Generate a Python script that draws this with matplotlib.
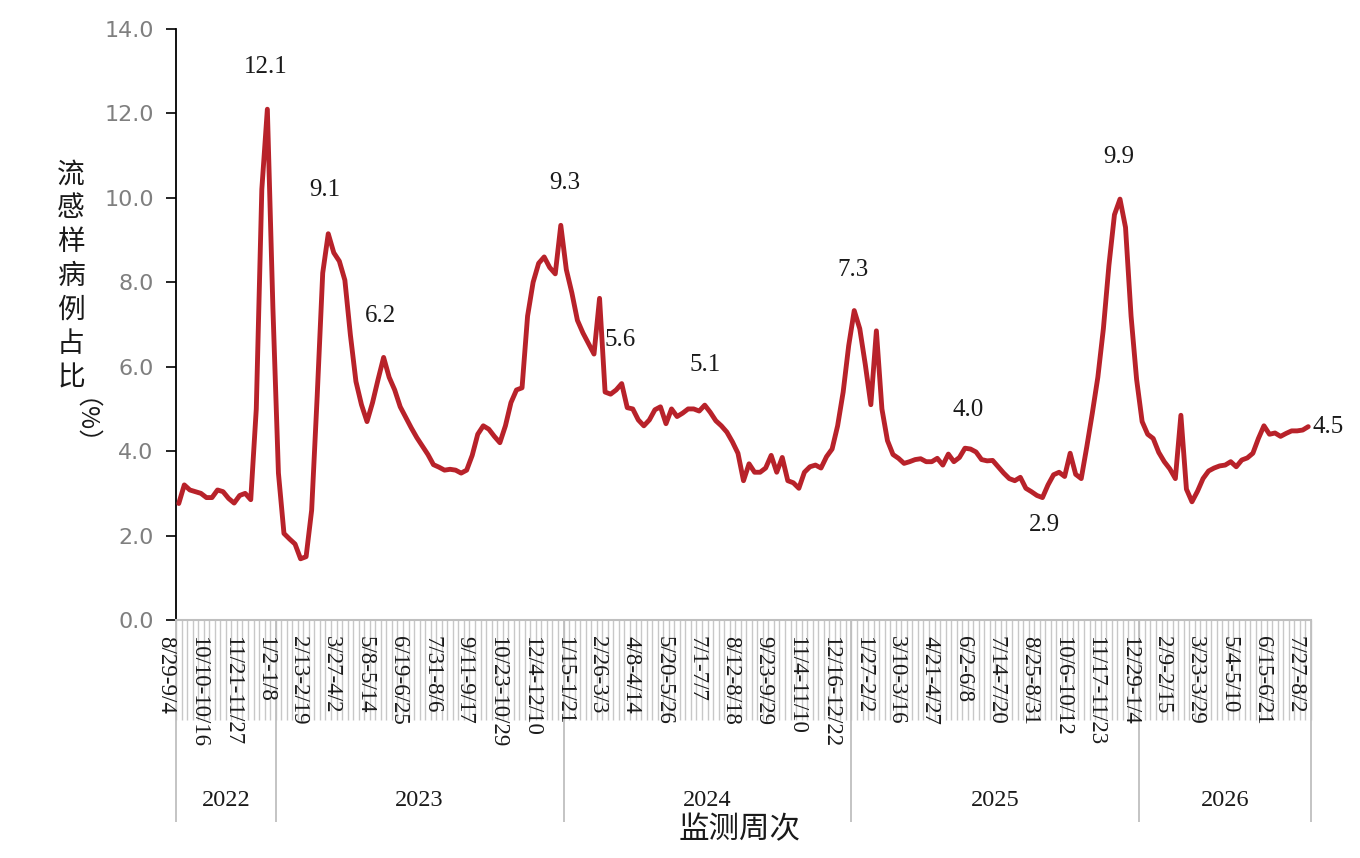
import numpy as np
import matplotlib
matplotlib.use("Agg")
import matplotlib.pyplot as plt
from matplotlib.transforms import offset_copy

# ---------------- data ----------------
years = ["2022", "2023", "2024", "2025", "2026"]

values_2022 = [2.76, 3.2, 3.08, 3.04, 3.0, 2.9, 2.9, 3.08, 3.04, 2.88,
               2.77, 2.95, 3.0, 2.85, 5.0, 10.2, 12.1, 7.4]
values_2023 = [3.48, 2.05, 1.92, 1.8, 1.45, 1.5, 2.6, 5.3, 8.22, 9.15,
               8.7, 8.5, 8.05, 6.75, 5.65, 5.1, 4.7, 5.15, 5.7, 6.22,
               5.75, 5.45, 5.05, 4.8, 4.55, 4.32, 4.12, 3.92, 3.68, 3.62,
               3.55, 3.57, 3.55, 3.48, 3.55, 3.9, 4.4, 4.6, 4.52, 4.35,
               4.2, 4.6, 5.15, 5.45, 5.5, 7.2, 8.0, 8.45, 8.6, 8.35,
               8.2, 9.35]
values_2024 = [8.3, 7.75, 7.1, 6.8, 6.55, 6.3, 7.62, 5.4, 5.35, 5.45,
               5.6, 5.03, 5.0, 4.74, 4.6, 4.74, 4.98, 5.05, 4.65, 5.0,
               4.82, 4.9, 5.0, 5.0, 4.95, 5.09, 4.92, 4.72, 4.6, 4.45,
               4.22, 3.95, 3.3, 3.7, 3.5, 3.5, 3.6, 3.9, 3.5, 3.85,
               3.3, 3.25, 3.12, 3.5, 3.63, 3.67, 3.6, 3.87, 4.05, 4.6,
               5.4, 6.5]
values_2025 = [7.33, 6.9, 6.05, 5.1, 6.85, 5.0, 4.25, 3.92, 3.83, 3.71,
               3.75, 3.8, 3.82, 3.75, 3.75, 3.83, 3.67, 3.93, 3.75, 3.85,
               4.07, 4.05, 3.98, 3.8, 3.77, 3.78, 3.63, 3.48, 3.35, 3.3,
               3.38, 3.12, 3.04, 2.95, 2.9, 3.2, 3.44, 3.5, 3.4, 3.95,
               3.45, 3.35, 4.1, 4.9, 5.75, 6.9, 8.4, 9.6, 9.97, 9.3,
               7.2, 5.7]
values_2026 = [4.7, 4.4, 4.3, 3.97, 3.75, 3.58, 3.35, 4.85, 3.1, 2.8,
               3.05, 3.35, 3.53, 3.6, 3.65, 3.67, 3.75, 3.63, 3.79, 3.84,
               3.95, 4.3, 4.6, 4.4, 4.43, 4.35, 4.42, 4.48, 4.48, 4.5,
               4.58]

week_labels = ["8/29-9/4", "10/10-10/16", "11/21-11/27", "1/2-1/8",
               "2/13-2/19", "3/27-4/2", "5/8-5/14", "6/19-6/25", "7/31-8/6",
               "9/11-9/17", "10/23-10/29", "12/4-12/10",
               "1/15-1/21", "2/26-3/3", "4/8-4/14", "5/20-5/26", "7/1-7/7",
               "8/12-8/18", "9/23-9/29", "11/4-11/10", "12/16-12/22",
               "1/27-2/2", "3/10-3/16", "4/21-4/27", "6/2-6/8", "7/14-7/20",
               "8/25-8/31", "10/6-10/12", "11/17-11/23", "12/29-1/4",
               "2/9-2/15", "3/23-3/29", "5/4-5/10", "6/15-6/21", "7/27-8/2"]

annot_index = [16, 27, 37, 69, 80, 95, 122, 142, 156, 170, 204]
annot_text = ["12.1", "9.1", "6.2", "9.3", "5.6", "5.1", "7.3", "4.0", "2.9", "9.9", "4.5"]

# ---------------- derived ----------------
groups = [values_2022, values_2023, values_2024, values_2025, values_2026]
values = np.concatenate([np.array(g, dtype=float) for g in groups])
n = len(values)
idx = np.arange(n)
bounds = np.concatenate([[0], np.cumsum([len(g) for g in groups])])

# ---------------- style ----------------
SERIF = ["Liberation Serif", "DejaVu Serif"]
CJK = ["Noto Sans CJK SC", "DejaVu Sans"]
LINE_COLOR = "#B8222A"
label_step = 6
annot_offsets = [(-2, 42), (-3, 44), (-3, 41), (4, 42), (-2, 44), (0, 40),
                 (-1, 41), (3, 38), (2, -27), (-1, 42), (4, 0)]

W, H = 1360, 858
fig = plt.figure(figsize=(W / 100, H / 100), dpi=100)
L, R, T, B = 176, 1311, 29, 620
ax = fig.add_axes([L / W, 1 - B / H, (R - L) / W, (B - T) / H])

ax.plot(idx, values, color=LINE_COLOR, lw=3.5, solid_joinstyle="round",
        solid_capstyle="round", zorder=3)

ax.set_xlim(-0.5, n - 0.5)
ax.set_ylim(0, 14)
ax.set_yticks(np.arange(0, 14.1, 2))
ax.set_yticklabels([f"{v:.1f}" for v in np.arange(0, 14.1, 2)])
ax.tick_params(axis="y", direction="out", length=7, width=1.2, color="black",
               pad=9, labelsize=16, labelcolor="#7f7f7f")
ax.set_xticks([])

for s in ["top", "right"]:
    ax.spines[s].set_visible(False)
ax.spines["left"].set_color("black")
ax.spines["left"].set_linewidth(1.3)
ax.spines["bottom"].set_color("#bfbfbf")
ax.spines["bottom"].set_linewidth(1.5)

xt = ax.get_xaxis_transform()
axis_h = B - T
# weekly category lines
ax.vlines(np.arange(n + 1) - 0.5, -100 / axis_h, 0, transform=xt, colors="#c8c8c8",
          lw=1.0, clip_on=False, zorder=1)
# year group separators
ax.vlines(bounds - 0.5, -202 / axis_h, 0, transform=xt, colors="#bfbfbf",
          lw=1.3, clip_on=False, zorder=1)

# week labels
lab_tr = offset_copy(xt, fig=fig, x=-13, y=-16, units="dots")
for k, lab in enumerate(week_labels):
    ax.text(k * label_step, 0, lab, transform=lab_tr, rotation=-90,
            ha="center", va="top", fontsize=16.5, family=SERIF, color="#1a1a1a")

# year labels
for k, yr in enumerate(years):
    cx = (bounds[k] + bounds[k + 1]) / 2 - 0.5
    ax.text(cx, -180 / axis_h, yr, transform=xt, ha="center", va="center",
            fontsize=17.5, family=SERIF, color="#1a1a1a")

# x label
ax.text((740 - L) / (R - L), -(830 - B) / axis_h, "监测周次", transform=ax.transAxes,
        ha="center", va="center", fontsize=22, family=CJK, color="#1a1a1a")

# y label (vertical stacked)
fig.text(71 / W, 1 - 276 / H, "\n".join("流感样病例占比"), ha="center", va="center",
         fontsize=20, family=CJK, color="#1a1a1a", linespacing=1.17)
fig.text(71 / W, 1 - 435 / H, "（%）", ha="center", va="center", rotation=-90,
         fontsize=18, family=CJK, color="#1a1a1a")

# annotations
for i, txt, (dx, dy) in zip(annot_index, annot_text, annot_offsets):
    ha = "left" if i == n - 1 else "center"
    ax.annotate(txt, xy=(i, values[i]), xytext=(dx, dy), textcoords="offset pixels",
                ha=ha, va="center", fontsize=18, family=SERIF, color="#1a1a1a",
                annotation_clip=False)

fig.savefig("out.png", dpi=100)
